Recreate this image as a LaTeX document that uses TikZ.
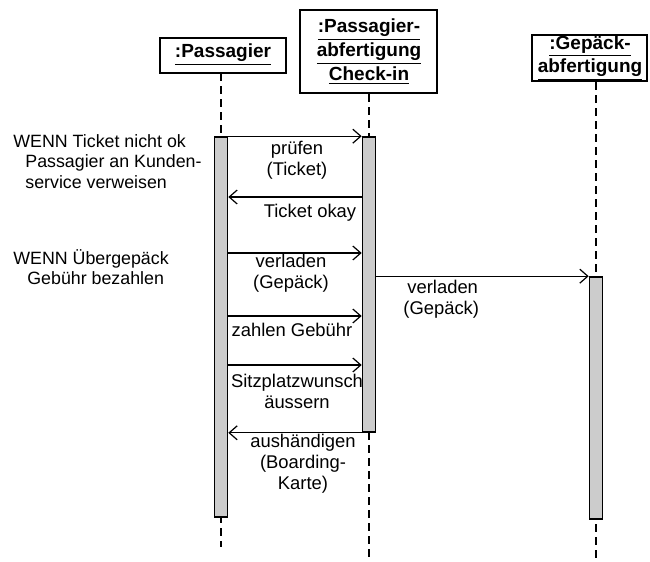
\documentclass[tikz,border=0pt]{standalone}
\usepackage{fontspec}
\setmainfont{Liberation Sans}
\usetikzlibrary{arrows.meta}

\begin{document}
\begin{tikzpicture}[x=0.5pt, y=-0.5pt, font=\fontsize{9.2}{10.5}\selectfont,
    obj/.style={draw, line width=1pt, align=center, inner sep=0pt,
        font=\fontsize{9.5}{10}\selectfont\bfseries},
    act/.style={draw, line width=0.8pt, fill=gray!40, minimum width=6.5pt, inner sep=0pt},
    life/.style={line width=1.1pt, dash pattern=on 4pt off 2.5pt},
    msg/.style={line width=0.6pt, -{Straight Barb[length=4pt, width=7pt]}},
    lbl/.style={align=center, inner sep=0pt}]
    \useasboundingbox (0,0) rectangle (650,562);

    % Objects
    \node[obj, minimum width=63pt, minimum height=17.5pt] (pas) at (223,55) {\underline{:Passagier}};
    \node[obj, minimum width=68.5pt, minimum height=41.5pt] (chk) at (369,52)
        {\underline{:Passagier-}\\\underline{abfertigung}\\\underline{Check-in}};
    \node[obj, minimum width=57.5pt, minimum height=23.5pt] (gep) at (590,58)
        {\underline{:Gepäck-}\\\underline{abfertigung}};

    \coordinate (endPas) at (221,547);
    \coordinate (endChk) at (369,562);
    \coordinate (endGep) at (596,562);

    % Lifelines
    \draw[life] (pas.south -| endPas) -- (endPas);
    \draw[life] (chk.south -| endChk) -- (endChk);
    \draw[life] (gep.south -| endGep) -- (endGep);

    % Activation bars
    \node[act, minimum height=190pt] (aPas) at (221,327) {};
    \node[act, minimum height=147.5pt] (aChk) at (369,284.5) {};
    \node[act, minimum height=121pt] (aGep) at (596,398) {};

    \coordinate (r2) at (0,197);
    \coordinate (r3) at (0,253);
    \coordinate (r4) at (0,316);
    \coordinate (r5) at (0,365);

    % Messages
    \draw[msg] (aPas.north east) -- (aChk.north west);
    \draw[msg] (aChk.west |- r2) -- (aPas.east |- r2);
    \draw[msg] (aPas.east |- r3) -- (aChk.west |- r3);
    \draw[msg] (aPas.east |- r4) -- (aChk.west |- r4);
    \draw[msg] (aPas.east |- r5) -- (aChk.west |- r5);
    \draw[msg] (aChk.south west) -- (aPas.east |- aChk.south);
    \draw[msg] (aChk.east |- aGep.north) -- (aGep.north west);

    % Message labels
    \node[lbl] (lPruefen) at (297,160) {prüfen\\(Ticket)};
    \node[lbl] (lOkay) at (310,213) {Ticket okay};
    \node[lbl] (lVerladen) at (291,273) {verladen\\(Gepäck)};
    \node[lbl] (lZahlen) at (292,330) {zahlen Gebühr};
    \node[lbl] (lSitz) at (297,391) {Sitzplatzwunsch\\äussern};
    \node[lbl] (lBoard) at (303,464) {aushändigen\\(Boarding-\\Karte)};
    \node[lbl, anchor=west, align=left] (lGep) at (403,299) {\hspace*{2pt}verladen\\(Gepäck)};

    % Conditions
    \node[lbl, anchor=north west, align=left, font=\fontsize{8.9}{10.3}\selectfont] (cTicket) at (13,134)
        {WENN Ticket nicht ok\\\hspace*{6pt}Passagier an Kunden-\\\hspace*{6pt}service verweisen};
    \node[lbl, anchor=north west, align=left, font=\fontsize{8.9}{10.3}\selectfont] (cGepaeck) at (13,249)
        {WENN Übergepäck\\\hspace*{7pt}Gebühr bezahlen};

\end{tikzpicture}
\end{document}
